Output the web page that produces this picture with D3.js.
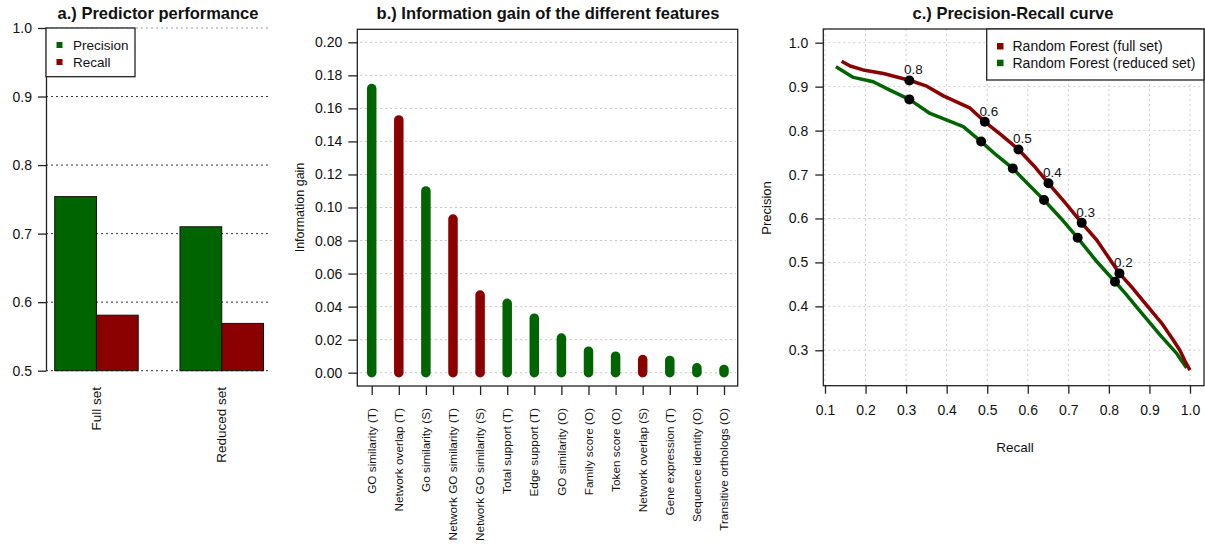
<!DOCTYPE html>
<html><head><meta charset="utf-8">
<script src="https://cdn.jsdelivr.net/npm/d3@7"></script>
<style>
body{margin:0;background:#fff;}
svg text{font-family:"Liberation Sans",Arial,sans-serif;fill:#111;}
</style></head>
<body>
<svg id="c" width="1205" height="544"></svg>
<script>
// ---------- Data ----------
// Panel a
const groupsA = ["Full set", "Reduced set"];
const seriesA = ["Precision", "Recall"];
const precisionA = [0.754, 0.710];
const recallA = [0.581, 0.569];
const ticksA = [0.5, 0.6, 0.7, 0.8, 0.9, 1.0];

// Panel b
const features = ["GO similarity (T)", "Network overlap (T)", "Go similarity (S)", "Network GO similarity (T)",
  "Network GO similarity (S)", "Total support (T)", "Edge support (T)", "GO similarity (O)", "Family score (O)",
  "Token score (O)", "Network overlap (S)", "Gene expression (T)", "Sequence identity (O)", "Transitive orthologs (O)"];
const infoGain = [0.172, 0.153, 0.110, 0.093, 0.047, 0.042, 0.033, 0.021, 0.013, 0.010, 0.008, 0.0074, 0.003, 0.002];
const featureGroup = ["g","r","g","r","r","g","g","g","g","g","r","g","g","g"];
const ticksB = [0.00, 0.02, 0.04, 0.06, 0.08, 0.10, 0.12, 0.14, 0.16, 0.18, 0.20];

// Panel c
const fullRecall = [0.141,0.162,0.194,0.244,0.310,0.351,0.392,0.458,0.494,0.536,0.577,0.615,0.651,0.692,0.733,0.770,0.826,0.860,0.893,0.930,0.959,0.975,0.988,1.0];
const fullPrecision = [0.958,0.947,0.938,0.930,0.914,0.901,0.879,0.851,0.820,0.789,0.757,0.720,0.680,0.636,0.590,0.551,0.475,0.440,0.403,0.362,0.323,0.300,0.275,0.255];
const redRecall = [0.127,0.170,0.219,0.260,0.308,0.359,0.441,0.485,0.523,0.563,0.600,0.640,0.682,0.723,0.770,0.815,0.840,0.868,0.926,0.967,0.980,0.992];
const redPrecision = [0.945,0.921,0.911,0.892,0.871,0.839,0.809,0.775,0.744,0.714,0.679,0.642,0.600,0.556,0.502,0.456,0.430,0.399,0.335,0.293,0.275,0.260];
const thresholds = ["0.8","0.6","0.5","0.4","0.3","0.2"];
const fullDotsR = [0.308,0.494,0.577,0.651,0.733,0.826];
const fullDotsP = [0.914,0.820,0.757,0.680,0.590,0.475];
const redDotsR = [0.308,0.485,0.563,0.640,0.723,0.815];
const redDotsP = [0.871,0.775,0.714,0.642,0.556,0.456];
const ticksCx = [0.1,0.2,0.3,0.4,0.5,0.6,0.7,0.8,0.9,1.0];
const ticksCy = [0.3,0.4,0.5,0.6,0.7,0.8,0.9,1.0];

const GREEN = "#006400", RED = "#8b0000";
const svg = d3.select("#c");

// ---------- Panel a ----------
{
  const g = svg.append("g");
  const y = d3.scaleLinear().domain([0.5, 1.0]).range([370.7, 28]);
  const x0 = d3.scaleBand().domain(groupsA).range([54.7, 263.5]).paddingInner(1/3).paddingOuter(0);
  const x1 = d3.scaleBand().domain(seriesA).range([0, x0.bandwidth()]);
  const col = d3.scaleOrdinal().domain(seriesA).range([GREEN, RED]);

  g.append("text").attr("x", 158).attr("y", 19).attr("text-anchor","middle")
    .style("font-weight","bold").style("font-size","16.5px").text("a.) Predictor performance");

  // gridlines
  g.selectAll(".grid").data(ticksA).join("line")
    .attr("x1", 46).attr("x2", 270).attr("y1", d => y(d)).attr("y2", d => y(d))
    .attr("stroke", d => d === 1.0 ? "#999" : "#333").attr("stroke-width", 1)
    .attr("stroke-dasharray", "2,3");

  const rows = groupsA.map((gname, i) => ({g: gname, vals: [{s:"Precision", v: precisionA[i]}, {s:"Recall", v: recallA[i]}]}));
  rows.forEach(r => {
    g.selectAll(null).data(r.vals).join("rect")
      .attr("x", d => x0(r.g) + x1(d.s)).attr("width", x1.bandwidth())
      .attr("y", d => y(d.v)).attr("height", d => y(0.5) - y(d.v))
      .attr("fill", d => col(d.s)).attr("stroke", "#111").attr("stroke-width", 1);
  });

  const ax = g.append("g").attr("transform", "translate(46,0)")
    .call(d3.axisLeft(y).tickValues(ticksA).tickFormat(d3.format(".1f")).tickSize(8).tickPadding(6).tickSizeOuter(0));
  ax.select(".domain").attr("stroke", "#222").attr("stroke-width", 1.3);
  ax.selectAll(".tick line").attr("stroke", "#222").attr("stroke-width", 1.3);
  ax.selectAll("text").style("font-size","14px").attr("fill","#222");

  g.selectAll(".xl").data(groupsA).join("text")
    .attr("transform", d => `translate(${x0(d) + x0.bandwidth()/2},387) rotate(-90)`)
    .attr("text-anchor","end").attr("dy","0.35em").style("font-size","13.5px").text(d => d);

  // legend
  g.append("rect").attr("x", 46).attr("y", 28).attr("width", 89).attr("height", 48.7)
    .attr("fill","#fff").attr("stroke","#222").attr("stroke-width",1.3);
  seriesA.forEach((s, i) => {
    g.append("rect").attr("x", 56.5).attr("y", 42 + i*17 ).attr("width", 6).attr("height", 6).attr("fill", col(s));
    g.append("text").attr("x", 73).attr("y", 45 + i*17).attr("dy","0.35em").style("font-size","13.5px").text(s);
  });
}

// ---------- Panel b ----------
{
  const g = svg.append("g");
  const x = d3.scalePoint().domain(features).range([371.7, 724]);
  const y = d3.scaleLinear().domain([0, 0.2]).range([372.7, 42.3]);
  const col = d => d === "g" ? GREEN : RED;

  g.append("text").attr("x", 548).attr("y", 19).attr("text-anchor","middle")
    .style("font-weight","bold").style("font-size","16.5px").text("b.) Information gain of the different features");

  g.selectAll(".grid").data(ticksB).join("line")
    .attr("x1", 360).attr("x2", 736).attr("y1", d => y(d)).attr("y2", d => y(d))
    .attr("stroke", "#c8c8c8").attr("stroke-dasharray","2,3");

  g.selectAll(".bar").data(features).join("line")
    .attr("x1", d => x(d)).attr("x2", d => x(d))
    .attr("y1", y(0)).attr("y2", (d,i) => y(infoGain[i]))
    .attr("stroke", (d,i) => col(featureGroup[i])).attr("stroke-width", 9.5).attr("stroke-linecap","round");

  g.append("rect").attr("x", 357.3).attr("y", 29.3).attr("width", 380.4).attr("height", 356.7)
    .attr("fill","none").attr("stroke","#222").attr("stroke-width",1.3);

  const ay = g.append("g").attr("transform","translate(357.3,0)")
    .call(d3.axisLeft(y).tickValues(ticksB).tickFormat(d3.format(".2f")).tickSize(9).tickPadding(6).tickSizeOuter(0));
  ay.select(".domain").remove();
  ay.selectAll(".tick line").attr("stroke","#222").attr("stroke-width",1.3);
  ay.selectAll("text").style("font-size","14px").attr("fill","#222");

  const axb = g.append("g").attr("transform","translate(0,386)")
    .call(d3.axisBottom(x).tickSize(9).tickFormat(""));
  axb.select(".domain").remove();
  axb.selectAll(".tick line").attr("stroke","#222").attr("stroke-width",1.3);

  g.selectAll(".xl").data(features).join("text")
    .attr("transform", d => `translate(${x(d)},408) rotate(-90)`)
    .attr("text-anchor","end").attr("dy","0.35em").style("font-size","11.8px").text(d => d);

  g.append("text").attr("transform","translate(300,207.5) rotate(-90)").attr("text-anchor","middle")
    .attr("dy","0.35em").style("font-size","12.5px").text("Information gain");
}

// ---------- Panel c ----------
{
  const g = svg.append("g");
  const x = d3.scaleLinear().domain([0.1, 1.0]).range([825, 1190]);
  const y = d3.scaleLinear().domain([0.3, 1.0]).range([350.3, 42.7]);

  g.append("text").attr("x", 1013).attr("y", 19).attr("text-anchor","middle")
    .style("font-weight","bold").style("font-size","16.5px").text("c.) Precision-Recall curve");

  g.selectAll(".gx").data(ticksCx).join("line")
    .attr("x1", d => x(d)).attr("x2", d => x(d)).attr("y1", 29).attr("y2", 385.7)
    .attr("stroke","#cfcfcf").attr("stroke-dasharray","2,3");
  g.selectAll(".gy").data(ticksCy).join("line")
    .attr("x1", 823.3).attr("x2", 1204).attr("y1", d => y(d)).attr("y2", d => y(d))
    .attr("stroke","#cfcfcf").attr("stroke-dasharray","2,3");

  const line = d3.line().x(d => x(d[0])).y(d => y(d[1]));
  g.append("path").datum(redRecall.map((r,i) => [r, redPrecision[i]])).attr("d", line)
    .attr("fill","none").attr("stroke", GREEN).attr("stroke-width",3.5).attr("stroke-linejoin","round");
  g.append("path").datum(fullRecall.map((r,i) => [r, fullPrecision[i]])).attr("d", line)
    .attr("fill","none").attr("stroke", RED).attr("stroke-width",3.5).attr("stroke-linejoin","round");

  g.selectAll(".d1").data(fullDotsR).join("circle")
    .attr("cx", d => x(d)).attr("cy", (d,i) => y(fullDotsP[i])).attr("r", 5).attr("fill","#000");
  g.selectAll(".d2").data(redDotsR).join("circle")
    .attr("cx", d => x(d)).attr("cy", (d,i) => y(redDotsP[i])).attr("r", 5).attr("fill","#000");
  g.selectAll(".tl").data(thresholds).join("text")
    .attr("x", (d,i) => x(fullDotsR[i]) + 4).attr("y", (d,i) => y(fullDotsP[i]) - 11)
    .attr("text-anchor","middle").attr("dy","0.35em").style("font-size","13.5px").text(d => d);

  g.append("rect").attr("x", 823.3).attr("y", 29).attr("width", 380.7).attr("height", 356.7)
    .attr("fill","none").attr("stroke","#222").attr("stroke-width",1.3);

  const ax = g.append("g").attr("transform","translate(0,385.7)")
    .call(d3.axisBottom(x).tickValues(ticksCx).tickFormat(d3.format(".1f")).tickSize(8).tickPadding(11).tickSizeOuter(0));
  ax.select(".domain").remove();
  ax.selectAll(".tick line").attr("stroke","#222").attr("stroke-width",1.3);
  ax.selectAll("text").style("font-size","14px").attr("fill","#222");

  const ay = g.append("g").attr("transform","translate(823.3,0)")
    .call(d3.axisLeft(y).tickValues(ticksCy).tickFormat(d3.format(".1f")).tickSize(8).tickPadding(7).tickSizeOuter(0));
  ay.select(".domain").remove();
  ay.selectAll(".tick line").attr("stroke","#222").attr("stroke-width",1.3);
  ay.selectAll("text").style("font-size","14px").attr("fill","#222");

  g.append("text").attr("x", 1015).attr("y", 447).attr("text-anchor","middle").attr("dy","0.35em")
    .style("font-size","13.5px").text("Recall");
  g.append("text").attr("transform","translate(766,208) rotate(-90)").attr("text-anchor","middle")
    .attr("dy","0.35em").style("font-size","13px").text("Precision");

  // legend
  g.append("rect").attr("x", 986.7).attr("y", 29).attr("width", 217.3).attr("height", 51)
    .attr("fill","#fff").attr("stroke","#222").attr("stroke-width",1.3);
  const legC = [["Random Forest (full set)", RED], ["Random Forest (reduced set)", GREEN]];
  legC.forEach((l, i) => {
    g.append("rect").attr("x", 997).attr("y", 43 + i*16.7).attr("width", 6.5).attr("height", 6.5).attr("fill", l[1]);
    g.append("text").attr("x", 1012.5).attr("y", 46.5 + i*16.7).attr("dy","0.35em").style("font-size","14px").text(l[0]);
  });
}
</script>
</body></html>
